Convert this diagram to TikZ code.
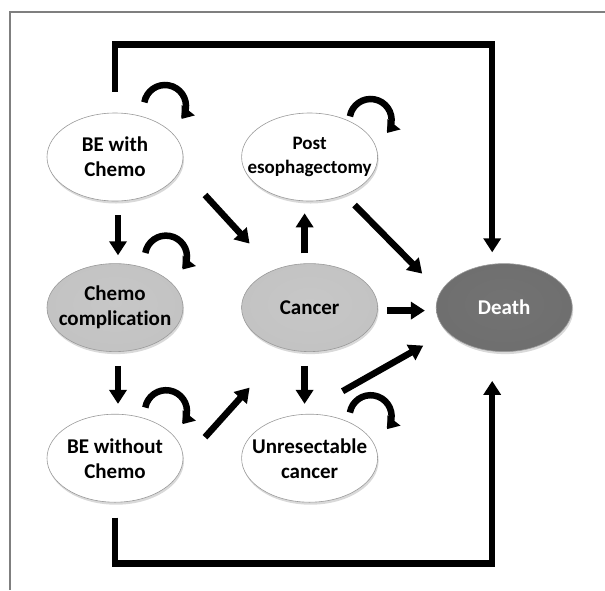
\documentclass[tikz,border=0pt]{standalone}
\usepackage{fontspec}
\setmainfont{Carlito}[Ligatures=NoCommon]
\usetikzlibrary{arrows.meta, positioning, shapes.geometric, shadows}
\definecolor{stedge}{HTML}{9A9A9A}
\definecolor{framegray}{HTML}{7F7F7F}
\pgfdeclareradialshading{lightrim}{\pgfpoint{0bp}{3bp}}{color(0bp)=(white); color(33bp)=(white); color(50bp)=(black!28)}
\pgfdeclareradialshading{midrim}{\pgfpoint{0bp}{3bp}}{color(0bp)=(black!22); color(33bp)=(black!24); color(50bp)=(black!42)}
\pgfdeclareradialshading{darkrim}{\pgfpoint{0bp}{3bp}}{color(0bp)=(black!55); color(33bp)=(black!57); color(50bp)=(black!72)}

\newcommand{\selfloop}[3]{%
  \draw[loopline] ([shift={(#2,#3)}]#1.center) ++(170:21) arc[start angle=170, end angle=-38, radius=21];}

\begin{document}
\begin{tikzpicture}[
  x=1pt, y=1pt,
  node distance=62pt and 58pt,
  state/.style={ellipse, draw=stedge, line width=0.6pt, minimum width=136pt, minimum height=88pt, inner xsep=-16pt, inner ysep=-10pt, align=center, font=\bfseries\fontsize{21}{25}\selectfont, drop shadow={shadow xshift=1pt, shadow yshift=-2.5pt, opacity=0.3}},
  lightstate/.style={state, shading=lightrim},
  midstate/.style={state, shading=midrim},
  darkstate/.style={state, shading=darkrim, text=white},
  arrow/.style={-{Triangle[width=17pt, length=14pt]}, line width=6.5pt},
  loopline/.style={-{Triangle[width=16pt, length=11pt]}, line width=6.5pt},
]
\useasboundingbox (0,0) rectangle (605,-590);
\draw[framegray, line width=2.5pt] (10,-590) -- (10,-12) -- (605,-12);

\node[lightstate] (bewith) at (115,-157) {BE with\\Chemo};
\node[midstate, below=of bewith] (chemocomp) {Chemo\\complication};
\node[lightstate, below=of chemocomp] (bewithout) {BE without\\Chemo};
\node[lightstate, right=of bewith, font=\bfseries\fontsize{19}{24}\selectfont] (post) {Post\\esophagectomy};
\node[midstate, right=of chemocomp] (cancer) {Cancer};
\node[lightstate, right=of bewithout] (unres) {Unresectable\\cancer};
\node[darkstate, right=of cancer] (death) {Death};

\draw[arrow] ([shift={(3,-14)}]bewith.south) -- ([shift={(3,8)}]chemocomp.north);
\draw[arrow] ([shift={(3,-14)}]chemocomp.south) -- ([shift={(3,10)}]bewithout.north);
\draw[arrow] ([shift={(90,-38)}]bewith.center) -- ([shift={(-60,64)}]cancer.center);
\draw[arrow] ([shift={(90,21)}]bewithout.center) -- ([shift={(-60,-80)}]cancer.center);
\draw[arrow] ([shift={(-5,10)}]cancer.north) -- ([shift={(-5,-12)}]post.south);
\draw[arrow] ([shift={(-5,-14)}]cancer.south) -- ([shift={(-5,10)}]unres.north);
\draw[arrow] ([shift={(9,-3)}]cancer.east) -- ([shift={(-11,-3)}]death.west);
\draw[arrow] ([shift={(45,-48)}]post.center) -- ([shift={(-82,34)}]death.center);
\draw[arrow] ([shift={(33,67)}]unres.center) -- ([shift={(-81,-38)}]death.center);

% Direct routes to death
\draw[arrow] ([yshift=21pt]bewith.north) -- ++(0,47) -| ([shift={(-12,11)}]death.north);
\draw[arrow] ([yshift=-15pt]bewithout.south) -- ++(0,-46) -| ([shift={(-12,-29)}]death.south);

% Stay in state
\selfloop{bewith}{50}{51}
\selfloop{chemocomp}{51}{51}
\selfloop{bewithout}{51}{47}
\selfloop{post}{61}{37}
\selfloop{unres}{61}{42}

\end{tikzpicture}
\end{document}
